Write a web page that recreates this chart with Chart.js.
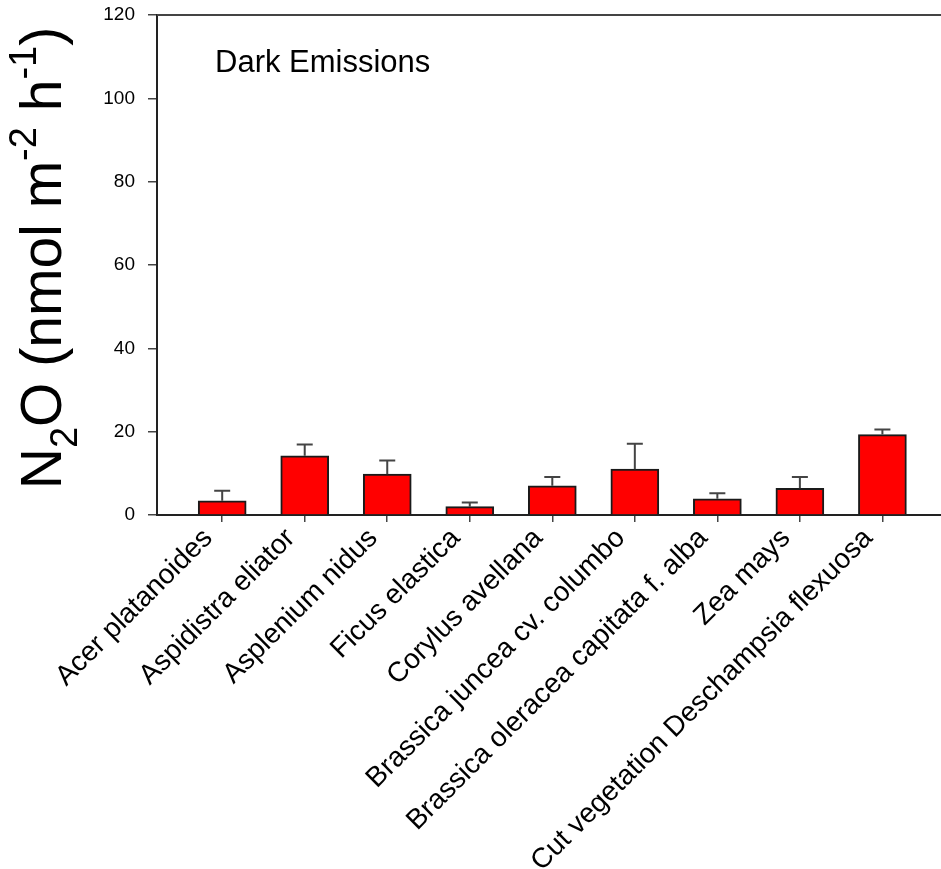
<!DOCTYPE html>
<html>
<head>
<meta charset="utf-8">
<title>Dark Emissions</title>
<script src="https://cdn.jsdelivr.net/npm/chart.js@4.4.0/dist/chart.umd.min.js"></script>
<style>
	html, body { margin: 0; padding: 0; background: #fff; }
	.chart-wrap { width: 941px; height: 869px; }
</style>
</head>
<body>
<div class="chart-wrap"><canvas id="emissions"></canvas></div>
<script>
// N2O flux per species, mean and standard error
const species = [
	'Acer platanoides',
	'Aspidistra eliator',
	'Asplenium nidus',
	'Ficus elastica',
	'Corylus avellana',
	'Brassica juncea cv. columbo',
	'Brassica oleracea capitata f. alba',
	'Zea mays',
	'Cut vegetation Deschampsia flexuosa'
];
const meanFlux = [3.4, 14.2, 9.8, 2.0, 7.0, 11.0, 3.9, 6.4, 19.3];
const fluxErr = [2.4, 2.7, 3.3, 1.0, 2.1, 6.1, 1.3, 2.7, 1.2];
const yTicks = [0, 20, 40, 60, 80, 100, 120];

const FONT = '"Liberation Sans", Arial, Helvetica, sans-serif';

// upward-only error bars with a short cap
const errorBars = {
	id: 'errorBars',
	afterDatasetsDraw(chart) {
		const {ctx, scales: {x, y}} = chart;
		ctx.save();
		ctx.strokeStyle = '#444';
		ctx.lineWidth = 2;
		meanFlux.forEach(function (v, i) {
			const px = x.getPixelForValue(i + 1);
			const base = y.getPixelForValue(v);
			const top = y.getPixelForValue(v + fluxErr[i]);
			ctx.beginPath();
			ctx.moveTo(px, base);
			ctx.lineTo(px, top);
			ctx.moveTo(px - 8, top);
			ctx.lineTo(px + 8, top);
			ctx.stroke();
		});
		ctx.restore();
	}
};

// top frame line, panel label and the y title with sub/superscripts
const decorations = {
	id: 'decorations',
	afterDraw(chart) {
		const {ctx, chartArea} = chart;
		ctx.save();
		ctx.strokeStyle = '#444';
		ctx.lineWidth = 2;
		ctx.beginPath();
		ctx.moveTo(chartArea.left, chartArea.top);
		ctx.lineTo(chartArea.right, chartArea.top);
		ctx.stroke();

		ctx.fillStyle = '#000';
		ctx.font = '31px ' + FONT;
		ctx.textBaseline = 'alphabetic';
		ctx.fillText('Dark Emissions', chartArea.left + 58, chartArea.top + 57);

		const big = '57px ' + FONT, small = '38px ' + FONT;
		const parts = [
			{text: 'N', font: big, shift: 0},
			{text: '2', font: small, shift: 16},
			{text: 'O (nmol m', font: big, shift: 0},
			{text: '-2', font: small, shift: -25},
			{text: ' h', font: big, shift: 0},
			{text: '-1', font: small, shift: -25},
			{text: ')', font: big, shift: 0}
		];
		let total = 0;
		parts.forEach(function (p) {
			ctx.font = p.font;
			p.w = ctx.measureText(p.text).width;
			total += p.w;
		});
		ctx.translate(61, 258);
		ctx.rotate(-Math.PI / 2);
		let pos = -total / 2;
		parts.forEach(function (p) {
			ctx.font = p.font;
			ctx.fillText(p.text, pos, p.shift);
			pos += p.w;
		});
		ctx.restore();
	}
};

new Chart(document.getElementById('emissions'), {
	type: 'bar',
	data: {
		datasets: [{
			data: species.map(function (s, i) { return {x: i + 1, y: meanFlux[i]}; }),
			backgroundColor: '#ff0000',
			borderColor: '#1a1a1a',
			borderWidth: 2,
			barThickness: 48
		}]
	},
	options: {
		responsive: true,
		maintainAspectRatio: false,
		animation: false,
		layout: {padding: {top: 15, right: 0, bottom: 0, left: 0}},
		plugins: {
			legend: {display: false},
			tooltip: {enabled: false}
		},
		scales: {
			x: {
				type: 'linear',
				min: 0.21,
				max: 9.71,
				offset: false,
				afterBuildTicks: function (s) {
					s.ticks = species.map(function (_, i) { return {value: i + 1}; });
				},
				afterFit: function (s) {
					s.height = 354;
					s.paddingLeft = 0;
					s.paddingRight = 0;
				},
				grid: {drawOnChartArea: false, offset: false, tickLength: 7, color: '#444', lineWidth: 1.5},
				border: {color: '#222', width: 2},
				ticks: {
					autoSkip: false,
					maxRotation: 45,
					minRotation: 45,
					padding: 0,
					labelOffset: -14,
					color: '#000',
					font: {family: FONT, size: 28},
					callback: function (v) { return species[v - 1] || ''; }
				}
			},
			y: {
				min: 0,
				max: 120,
				afterBuildTicks: function (s) {
					s.ticks = yTicks.map(function (v) { return {value: v}; });
				},
				afterFit: function (s) {
					s.width = 157;
					s.paddingTop = 0;
					s.paddingBottom = 0;
				},
				grid: {drawOnChartArea: false, tickLength: 9, color: '#444', lineWidth: 1.5},
				border: {color: '#222', width: 2},
				ticks: {
					color: '#000',
					padding: 13,
					font: {family: FONT, size: 19}
				}
			}
		}
	},
	plugins: [errorBars, decorations]
});
</script>
</body>
</html>
